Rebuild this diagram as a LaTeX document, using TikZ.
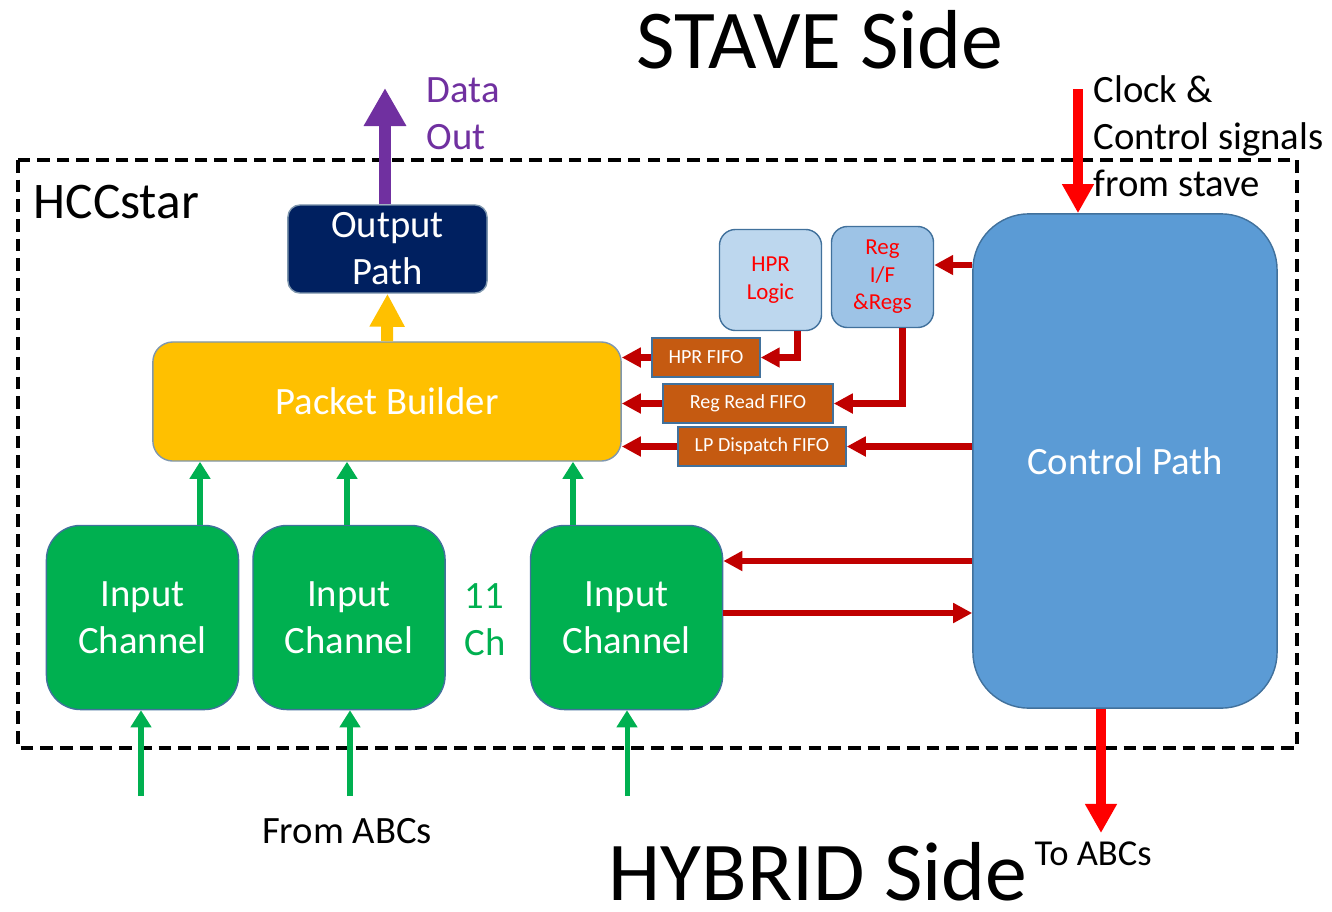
\documentclass[tikz,border=0pt]{standalone}
\usepackage{fontspec}
\setmainfont{Carlito}
\usepackage{tikz}
\usetikzlibrary{arrows.meta,positioning}
\definecolor{NavyOut}{HTML}{002060}
\definecolor{PacketGold}{HTML}{FFC000}
\definecolor{ChanGreen}{HTML}{00B050}
\definecolor{CtrlBlue}{HTML}{5B9BD5}
\definecolor{HprBlue}{HTML}{BDD7EE}
\definecolor{RegBlue}{HTML}{9DC3E6}
\definecolor{FifoBrown}{HTML}{C55A11}
\definecolor{EdgeBlue}{HTML}{41719C}
\definecolor{EdgeGray}{HTML}{7F97AE}
\definecolor{DarkRed}{HTML}{C00000}
\definecolor{SignalRed}{HTML}{FF0000}
\definecolor{DataPurple}{HTML}{7030A0}
\tikzset{
  BX/.style={rectangle,draw=EdgeBlue,line width=0.4pt,inner sep=0pt,
             text=white,align=center,font=\fontsize{11}{13.4}\selectfont},
  nOut/.style={BX,fill=NavyOut,draw=EdgeGray,rounded corners=0.12cm,
               minimum width=1.99cm,minimum height=0.88cm},
  nPkt/.style={BX,fill=PacketGold,draw=EdgeGray,rounded corners=0.2cm,
               minimum width=4.68cm,minimum height=1.19cm},
  nIn/.style={BX,fill=ChanGreen,rounded corners=0.34cm,
              minimum width=1.92cm,minimum height=1.84cm},
  nCtl/.style={BX,fill=CtrlBlue,rounded corners=0.56cm,
               minimum width=3.04cm,minimum height=4.94cm},
  nReg/.style={BX,text=SignalRed,rounded corners=0.16cm,
               font=\fontsize{6.5}{7.8}\selectfont,
               minimum width=1.02cm,minimum height=1.01cm},
  nFifo/.style={BX,fill=FifoBrown,font=\fontsize{5.7}{7}\selectfont,
                minimum height=0.39cm},
  lbl/.style={inner sep=0pt,font=\fontsize{11}{13.4}\selectfont},
  side/.style={inner sep=0pt,font=\fontsize{23.8}{28}\selectfont},
  darr/.style={-{Triangle[width=0.19cm,length=0.19cm]},line width=0.065cm,DarkRed},
  garr/.style={-{Triangle[width=0.2cm,length=0.17cm]},line width=0.05cm,ChanGreen},
  sarr/.style={-{Triangle[width=0.3cm,length=0.29cm]},line width=0.095cm,SignalRed},
  parr/.style={-{Triangle[width=0.4cm,length=0.38cm]},line width=0.12cm,DataPurple},
  yarr/.style={-{Triangle[width=0.33cm,length=0.33cm]},line width=0.12cm,PacketGold}
}
\begin{document}
\begin{tikzpicture}[x=0.01cm,y=-0.01cm]
  \useasboundingbox (0,0) rectangle (1332,911);

  % chip outline
  \draw[line width=1.15pt,dash pattern=on 3.6pt off 2pt] (18,160) rectangle (1297,748);
  \node[anchor=base west,inner sep=0pt,font=\fontsize{14.6}{17}\selectfont]
    (hcc) at (33,218) {HCCstar};

  % blocks
  \node[nOut] (outp) at (387.5,249) {Output\\Path};
  \node[nPkt] (pb) at (387,401.5) {Packet Builder};
  \node[nIn] (in1) at (142.5,617.5) {Input\\Channel};
  \node[nIn,right=0.13cm of in1] (in2) {Input\\Channel};
  \node[nIn,right=0.84cm of in2] (in3) {Input\\Channel};
  \node[lbl,anchor=north west,align=left,text=ChanGreen] (nch) at (464,583) {11\\Ch};
  \node[nCtl] (ctrl) at (1125,461) {Control Path};
  \node[nReg,fill=HprBlue] (hpr) at (770.5,280) {HPR\\Logic};
  \node[nReg,fill=RegBlue] (regif) at (882.5,277) {Reg\\I/F\\\&Regs};
  \node[nFifo,minimum width=1.08cm] (hprfifo) at (706,357.5) {HPR FIFO};
  \node[nFifo,minimum width=1.70cm] (regfifo) at (748,403.5) {Reg Read FIFO};
  \node[nFifo,minimum width=1.68cm] (lpfifo) at (762,446.5) {LP Dispatch FIFO};

  % side labels
  \node[side,anchor=base] (stave) at (820,68) {STAVE Side};
  \node[side,anchor=base] (hybrid) at (818,900) {HYBRID Side};
  \node[lbl,anchor=north west,align=left,text=DataPurple] (dlbl) at (426,77) {Data\\Out};
  \node[lbl,anchor=north west,align=left] (clbl) at (1093,75) {Clock \&\\Control signals\\from stave};
  \node[lbl,anchor=base] (fromabc) at (347,843) {From ABCs};
  \node[lbl,anchor=base west,font=\fontsize{10.4}{12}\selectfont] (toabc) at (1034,865) {To ABCs};

  % free ends
  \coordinate (dout) at (385,88);
  \coordinate (clk) at (1078,89);
  \coordinate (abcout) at (1101,833);
  \coordinate (g1) at (200,0);
  \coordinate (g2) at (347,0);
  \coordinate (g3) at (573,0);
  \coordinate (abc1) at (141,796);
  \coordinate (abc2) at (350,796);
  \coordinate (abc3) at (627,796);
  \coordinate (c2in) at (0,561);
  \coordinate (in2c) at (0,613);
  \coordinate (c2reg) at (0,265);

  % data path
  \draw[parr] (outp.north -| dout) -- (dout);
  \draw[yarr] (pb.north) -- (outp.south);
  \foreach \i/\g in {1/g1,2/g2,3/g3}
    \draw[garr] (in\i.north -| \g) -- (pb.south -| \g);
  \foreach \i in {1,2,3}
    \draw[garr] (abc\i) -- (in\i.south -| abc\i);

  % control path
  \draw[sarr] (clk) -- (ctrl.north -| clk);
  \draw[sarr] (ctrl.south -| abcout) -- (abcout);
  \draw[darr] (ctrl.west |- c2reg) -- (regif.east |- c2reg);
  \draw[darr] ([xshift=0.27cm]hpr.south) |- (hprfifo.east);
  \draw[darr] ([xshift=0.2cm]regif.south) |- (regfifo.east);
  \draw[darr] (ctrl.west |- lpfifo.east) -- (lpfifo.east);
  \foreach \f in {hprfifo,regfifo,lpfifo}
    \draw[darr] (\f.west) -- (pb.east |- \f.west);
  \draw[darr] (ctrl.west |- c2in) -- (in3.east |- c2in);
  \draw[darr] (in3.east |- in2c) -- (ctrl.west |- in2c);
\end{tikzpicture}
\end{document}
